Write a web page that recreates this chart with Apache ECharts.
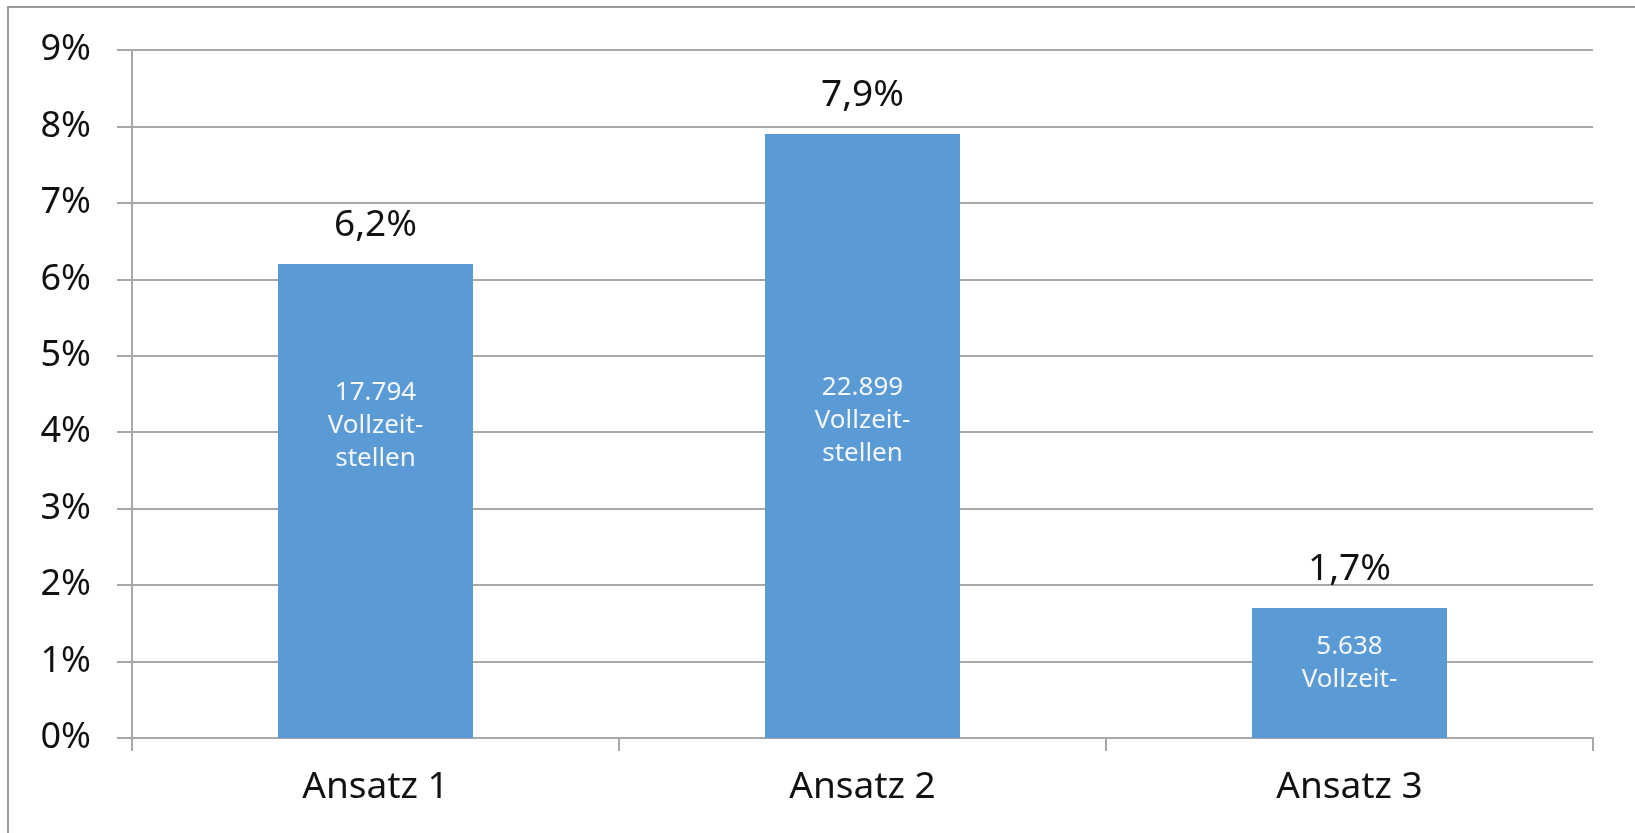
<!DOCTYPE html>
<html>
<head>
<meta charset="utf-8">
<script src="https://cdn.jsdelivr.net/npm/echarts@6/dist/echarts.min.js"></script>
<style>
  html, body { margin: 0; padding: 0; background: #fff; }
  #frame { position: absolute; left: 7px; top: 6px; width: 1700px; height: 900px;
           border-top: 2px solid #9a9a9a; border-left: 2px solid #9a9a9a; }
  #chart { position: absolute; left: 0; top: 0; width: 1635px; height: 833px; }
</style>
</head>
<body>
<div id="frame"></div>
<div id="chart"></div>
<script>
// categories and values
const categories = ['Ansatz 1', 'Ansatz 2', 'Ansatz 3'];
const shares = [6.2, 7.9, 1.7];
const innerTexts = ['17.794\nVollzeit-\nstellen', '22.899\nVollzeit-\nstellen', '5.638\nVollzeit-'];
const yTicks = [0, 1, 2, 3, 4, 5, 6, 7, 8, 9];

// distance of the white text block above the bar base (hand placed in the original)
const innerLift = [263, 268, 42];

const fontFamily = '"Noto Sans", "Open Sans", sans-serif';
const gray = '#a8a8a8';

const chart = echarts.init(document.getElementById('chart'));

const option = {
    animation: false,
    grid: { left: 132, top: 50, width: 1461, height: 688 },
    xAxis: {
        type: 'category',
        data: categories,
        axisLine: { lineStyle: { color: gray, width: 2 } },
        axisTick: { show: true, length: 13, lineStyle: { color: gray, width: 2 } },
        axisLabel: { fontSize: 37, lineHeight: 37, margin: 31, color: '#111', fontFamily: fontFamily }
    },
    yAxis: {
        type: 'value',
        min: yTicks[0],
        max: yTicks[yTicks.length - 1],
        interval: 1,
        axisLine: { show: true, lineStyle: { color: gray, width: 2 } },
        axisTick: { show: true, length: 15, lineStyle: { color: gray, width: 2 } },
        splitLine: { lineStyle: { color: gray, width: 2 } },
        axisLabel: { fontSize: 36, margin: 41, color: '#111', fontFamily: fontFamily,
                     formatter: '{value}%' }
    },
    series: [
        {
            type: 'bar',
            data: shares,
            barWidth: 195,
            itemStyle: { color: '#5b9bd5' },
            label: {
                show: true,
                position: 'top',
                distance: 20,
                fontSize: 37,
                color: '#111',
                fontFamily: fontFamily,
                formatter: p => String(p.value).replace('.', ',') + '%'
            },
            z: 2
        },
        {
            type: 'bar',
            barGap: '-100%',
            barWidth: 195,
            silent: true,
            itemStyle: { color: 'rgba(0,0,0,0)' },
            data: shares.map((v, i) => ({
                value: v,
                label: {
                    show: true,
                    position: 'insideBottom',
                    distance: innerLift[i],
                    formatter: innerTexts[i],
                    fontSize: 26,
                    lineHeight: 33,
                    color: '#f3f6fb',
                    fontFamily: fontFamily,
                    align: 'center'
                }
            })),
            z: 3
        }
    ]
};

chart.setOption(option);
</script>
</body>
</html>
